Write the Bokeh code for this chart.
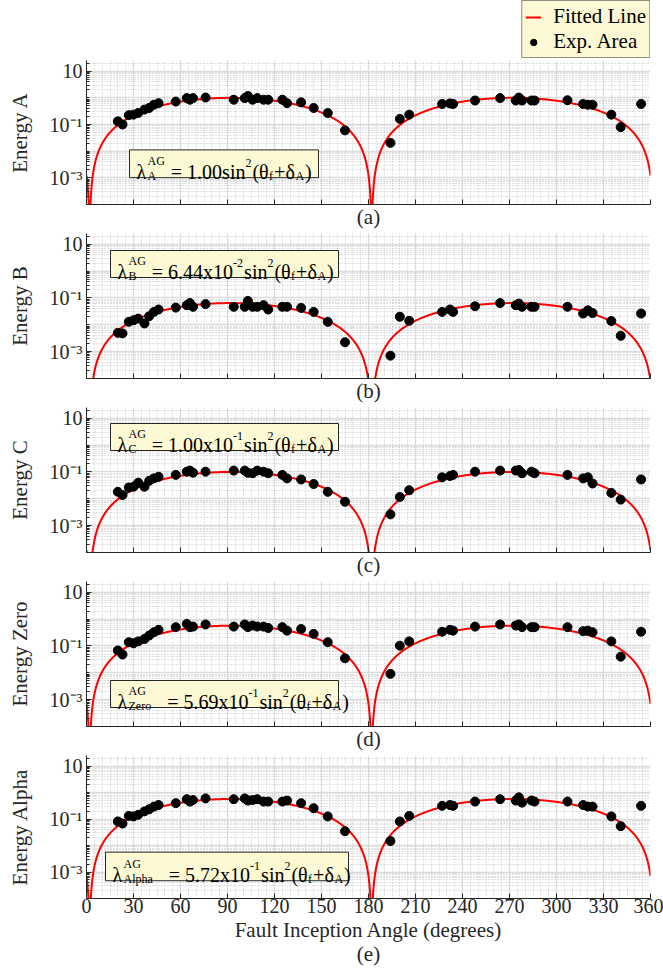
import numpy as np
from bokeh.plotting import figure
from bokeh.layouts import column
from bokeh.models import (Range1d, FixedTicker, CustomJSTickFormatter,
                          Legend, LegendItem, ColumnDataSource)
from bokeh.core.properties import value
from bokeh.embed import file_html
from bokeh.resources import INLINE

# ---------------- data ----------------
angle_deg = [20, 23, 27, 30, 33, 37, 40, 43, 46, 57, 64, 66, 68, 76, 94, 101, 103,
             106, 109, 113, 116, 125, 128, 137, 145, 154, 165, 194, 200, 206, 227,
             232, 234, 248, 264, 274, 276, 278, 284, 286, 307, 317, 320, 323, 335,
             341, 354]

# log10 of the energy values
log10_energy_a = [-0.88, -1.0, -0.65, -0.63, -0.57, -0.44, -0.38, -0.26, -0.2, -0.14,
                  -0.01, -0.07, -0.01, 0.01, -0.07, -0.01, 0.07, -0.07, -0.01, -0.07,
                  -0.07, -0.07, -0.2, -0.17, -0.38, -0.57, -1.22, -1.69, -0.79, -0.63,
                  -0.23, -0.21, -0.23, -0.10, -0.01, -0.1, 0.01, -0.1, -0.1, -0.1,
                  -0.09, -0.23, -0.26, -0.26, -0.63, -1.1, -0.23]
log10_energy_b = [-2.30, -2.32, -1.89, -1.83, -1.77, -1.95, -1.68, -1.52, -1.43, -1.36,
                  -1.27, -1.19, -1.33, -1.23, -1.33, -1.33, -1.11, -1.33, -1.33, -1.27,
                  -1.43, -1.33, -1.33, -1.37, -1.52, -1.89, -2.65, -3.15, -1.70, -1.85,
                  -1.52, -1.43, -1.52, -1.31, -1.19, -1.27, -1.21, -1.33, -1.33, -1.33,
                  -1.33, -1.58, -1.46, -1.56, -1.86, -2.41, -1.58]
log10_energy_c = [-1.74, -1.86, -1.58, -1.55, -1.4, -1.55, -1.33, -1.24, -1.18, -1.11,
                  -0.99, -0.95, -1.03, -0.99, -0.95, -0.95, -1.03, -1.05, -0.95, -0.99,
                  -1.05, -1.11, -1.24, -1.28, -1.45, -1.74, -2.11, -2.58, -1.93, -1.68,
                  -1.2, -1.15, -1.11, -0.99, -0.95, -0.95, -0.93, -1.05, -0.99, -1.05,
                  -1.11, -1.24, -1.2, -1.43, -1.78, -2.03, -1.28]
log10_energy_zero = [-1.17, -1.32, -0.86, -0.9, -0.83, -0.74, -0.61, -0.49, -0.4, -0.3,
                     -0.18, -0.3, -0.28, -0.2, -0.28, -0.2, -0.3, -0.24, -0.28, -0.28,
                     -0.33, -0.3, -0.43, -0.37, -0.55, -0.86, -1.46, -2.04, -0.99, -0.83,
                     -0.47, -0.4, -0.43, -0.28, -0.2, -0.24, -0.2, -0.3, -0.3, -0.3,
                     -0.3, -0.45, -0.43, -0.49, -0.83, -1.4, -0.47]
log10_energy_alpha = [-1.09, -1.17, -0.88, -0.9, -0.84, -0.71, -0.63, -0.53, -0.47, -0.4,
                      -0.25, -0.34, -0.28, -0.22, -0.25, -0.22, -0.3, -0.28, -0.25, -0.34,
                      -0.34, -0.34, -0.3, -0.4, -0.59, -0.9, -1.46, -1.83, -1.09, -0.88,
                      -0.5, -0.47, -0.5, -0.34, -0.25, -0.3, -0.18, -0.38, -0.3, -0.34,
                      -0.34, -0.47, -0.53, -0.53, -0.9, -1.27, -0.5]

# fitted amplitudes (from the equations in the boxes) and phase
fit_lambda = [1.00, 6.44e-2, 1.00e-1, 5.69e-1, 5.72e-1]
delta_deg = -2.0

y_labels = ["Energy A", "Energy B", "Energy C", "Energy Zero", "Energy Alpha"]
panel_tags = ["(a)", "(b)", "(c)", "(d)", "(e)"]
x_title = "Fault Inception Angle (degrees)"
x_tick_values = list(range(0, 361, 30))
legend_labels = ["Fitted Line", "Exp. Area"]

# equation texts: (text, role) with role n=normal, supst=stacked sup, sup, sub
equations = [
    [("λ", "n"), ("AG", "supst"), ("A", "sub"), (" = 1.00sin", "n"), ("2", "sup"),
     ("(θ", "n"), ("f", "sub"), ("+δ", "n"), ("A", "sub"), (")", "n")],
    [("λ", "n"), ("AG", "supst"), ("B", "sub"), (" = 6.44x10", "n"), ("-2", "sup"),
     ("sin", "n"), ("2", "sup"), ("(θ", "n"), ("f", "sub"), ("+δ", "n"), ("A", "sub"), (")", "n")],
    [("λ", "n"), ("AG", "supst"), ("C", "sub"), (" = 1.00x10", "n"), ("-1", "sup"),
     ("sin", "n"), ("2", "sup"), ("(θ", "n"), ("f", "sub"), ("+δ", "n"), ("A", "sub"), (")", "n")],
    [("λ", "n"), ("AG", "supst"), ("Zero", "sub"), ("   = 5.69x10", "n"), ("-1", "sup"),
     ("sin", "n"), ("2", "sup"), ("(θ", "n"), ("f", "sub"), ("+δ", "n"), ("A", "sub"), (")", "n")],
    [("λ", "n"), ("AG", "supst"), ("Alpha", "sub"), ("   = 5.72x10", "n"), ("-1", "sup"),
     ("sin", "n"), ("2", "sup"), ("(θ", "n"), ("f", "sub"), ("+δ", "n"), ("A", "sub"), (")", "n")],
]
# box geometry in px relative to frame top-left: left, top, width, height
eq_boxes = [(43, 90, 189, 28), (24, 17, 228, 27), (24, 16, 228, 27),
            (24, 99, 228, 27), (19, 98, 243, 29)]

# ---------------- layout / style ----------------
FONT = "Liberation Serif"
W = 663
LEFT, RIGHT = 86, 13
FW = W - LEFT - RIGHT
FH = 145
Y_LO_LOG, Y_HI_LOG = -4.0, 1.4
BOX_FILL = "#FCF9D4"
DARK = "#262626"
RED = "#FF0000"
MAIN_PX, SCRIPT_PX = 20, 12
DOT_SIZE = 9

CW = {' ': .25, '.': .25, '=': .564, '+': .564, '-': .333, '(': .333, ')': .333,
      'x': .5, 's': .389, 'i': .278, 'n': .5, 'A': .722, 'G': .722, 'B': .667,
      'C': .667, 'Z': .611, 'e': .444, 'r': .333, 'o': .5, 'l': .278, 'p': .5,
      'h': .5, 'a': .444, 'f': .333, 'λ': .55, 'θ': .5, 'δ': .5}


def text_w(t, size):
    return sum(CW.get(c, .5) for c in t) * size


def px_x(px):
    return px / FW * 360.0


def px_y(py):
    return 10 ** (Y_HI_LOG - py / FH * (Y_HI_LOG - Y_LO_LOG))


def add_equation(p, runs, box):
    bl, bt, bw, bh = box
    p.quad(left=[px_x(bl)], right=[px_x(bl + bw)], top=[px_y(bt)], bottom=[px_y(bt + bh)],
           fill_color=BOX_FILL, line_color=DARK, line_width=1)
    x = bl + 7
    base = bt + bh - 6
    pending = 0
    groups = {MAIN_PX: dict(x=[], y=[], text=[]), SCRIPT_PX: dict(x=[], y=[], text=[])}
    for t, role in runs:
        size = MAIN_PX if role == "n" else SCRIPT_PX
        lead = len(t) - len(t.lstrip(" "))
        x += text_w(" " * lead, size)
        t = t.lstrip(" ")
        w = text_w(t, size)
        dy = {"n": 0, "sup": -9, "supst": -11, "sub": 4}[role]
        g = groups[size]
        g["x"].append(px_x(x))
        g["y"].append(px_y(base + dy))
        g["text"].append(t)
        if role == "supst":
            pending = w
            continue
        x += max(w, pending) + (1 if role != "n" else 0)
        pending = 0
    for size, g in groups.items():
        p.text(x="x", y="y", text="text", source=ColumnDataSource(g),
               text_font=value(FONT), text_font_size=f"{size}px",
               text_baseline="alphabetic", text_align="left", text_color="black")


# ---------------- legend strip ----------------
leg_fig = figure(width=W, height=58, x_range=Range1d(0, 1), y_range=Range1d(0, 1),
                 output_backend="svg", toolbar_location=None, min_border=0,
                 min_border_left=0, min_border_right=11, min_border_top=0,
                 min_border_bottom=0)
leg_fig.axis.visible = False
leg_fig.grid.visible = False
leg_fig.outline_line_color = None
# legend-only renderers: their single sample lies outside the visible range
lr = leg_fig.line([-5, -4], [-5, -5], line_color=RED, line_width=2)
sr = leg_fig.scatter([-5], [-5], size=DOT_SIZE, fill_color="black", line_color="black")
legend = Legend(items=[LegendItem(label=legend_labels[0], renderers=[lr]),
                       LegendItem(label=legend_labels[1], renderers=[sr])],
                location="bottom_right", orientation="vertical")
legend.background_fill_color = BOX_FILL
legend.background_fill_alpha = 1.0
legend.border_line_color = DARK
legend.border_line_width = 1
legend.label_text_font = FONT
legend.label_text_font_size = "21px"
legend.label_text_color = "black"
legend.glyph_width = 16
legend.glyph_height = 22
legend.label_height = 22
legend.label_standoff = 12
legend.padding = 3
legend.spacing = 0
legend.margin = 0
leg_fig.add_layout(legend)

theta = np.linspace(0, 360, 7201)
all_logs = [log10_energy_a, log10_energy_b, log10_energy_c, log10_energy_zero,
            log10_energy_alpha]

y_major = [10.0 ** k for k in range(-4, 2)]
y_minor = [m * 10.0 ** k for k in range(-4, 2) for m in range(2, 10) if m * 10.0 ** k < 25]
y_axis_minor = sorted(y_minor + [1e-4, 1e-2, 1.0])

figs = [leg_fig]
for i in range(5):
    top = 2
    bottom = (26 if i == 0 else 27) if i < 4 else 68
    p = figure(width=W, height=top + FH + bottom, x_range=Range1d(0, 360),
               y_range=Range1d(10 ** Y_LO_LOG, 10 ** Y_HI_LOG), y_axis_type="log",
               output_backend="svg", toolbar_location=None,
               min_border_left=LEFT, min_border_right=RIGHT,
               min_border_top=top, min_border_bottom=bottom)
    p.outline_line_color = None
    p.background_fill_color = "white"

    # grids
    p.xgrid.ticker = FixedTicker(ticks=x_tick_values, minor_ticks=list(range(0, 361, 5)))
    p.ygrid.ticker = FixedTicker(ticks=y_major, minor_ticks=y_minor)
    for g in (p.xgrid, p.ygrid):
        g.grid_line_color = "#DCDCDC"
        g.grid_line_width = 1.3
        g.minor_grid_line_color = "#C4C4C4"
        g.minor_grid_line_dash = "1 2"
        g.minor_grid_line_width = 1

    # axes
    p.yaxis.ticker = FixedTicker(ticks=[1e-3, 1e-1, 10], minor_ticks=y_axis_minor)
    p.yaxis.formatter = CustomJSTickFormatter(
        code="if (tick > 5) {return '10';} else if (tick > 0.05) {return '10⁻¹';} else {return '10⁻³';}")
    for ax in (p.xaxis, p.yaxis):
        ax.axis_line_color = DARK
        ax.major_tick_line_color = DARK
        ax.minor_tick_line_color = DARK
        ax.major_tick_in = 5
        ax.major_tick_out = 0
        ax.minor_tick_in = 3
        ax.minor_tick_out = 0
        ax.major_label_text_font = FONT
        ax.major_label_text_font_size = "20px"
        ax.major_label_text_color = DARK
        ax.axis_label_text_font = FONT
        ax.axis_label_text_font_size = "21px"
        ax.axis_label_text_font_style = "normal"
        ax.axis_label_text_color = DARK
    p.yaxis.axis_label = y_labels[i]
    p.yaxis.major_label_standoff = 4
    p.yaxis.axis_label_standoff = 15
    if i < 4:
        # tick marks every 30 degrees, the panel tag as the only label (at 180)
        p.xaxis.ticker = FixedTicker(ticks=[180], minor_ticks=x_tick_values)
        p.xaxis.minor_tick_in = 5
        p.xaxis.formatter = CustomJSTickFormatter(code=f"return '{panel_tags[i]}';")
        p.xaxis.major_label_text_font_size = "21px"
        p.xaxis.major_label_standoff = 0
    else:
        p.xaxis.ticker = FixedTicker(ticks=x_tick_values)
        p.xaxis.minor_tick_line_color = None
        p.xaxis.major_label_standoff = 0
        p.xaxis.axis_label = x_title + "\n" + panel_tags[i]
        p.xaxis.axis_label_text_font_size = "21px"
        p.xaxis.axis_label_text_line_height = 1.0
        p.xaxis.axis_label_standoff = 2

    # fitted line
    fit = fit_lambda[i] * np.sin(np.radians(theta + delta_deg)) ** 2
    fit = np.maximum(fit, 1e-12)
    p.line(theta, fit, line_color=RED, line_width=2)
    # experimental points
    vals = [10.0 ** v for v in all_logs[i]]
    p.scatter(angle_deg, vals, size=DOT_SIZE, fill_color="black", line_color="black")

    add_equation(p, equations[i], eq_boxes[i])
    figs.append(p)

layout = column(*figs, spacing=0)
open("out.html", "w").write(file_html(layout, INLINE))
